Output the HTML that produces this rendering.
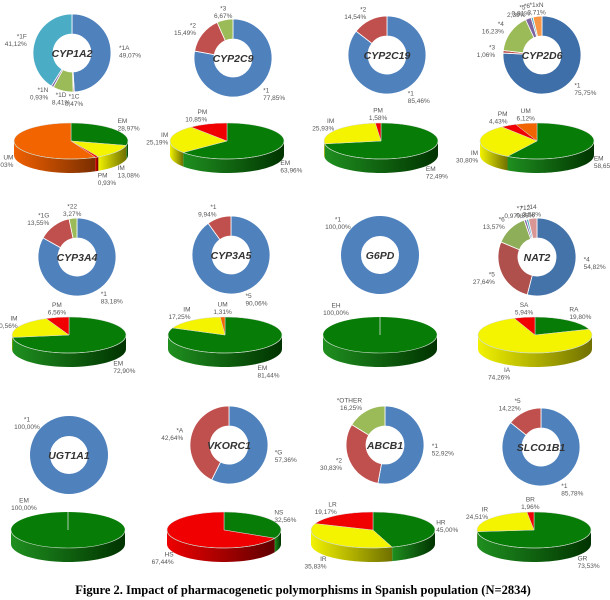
<!DOCTYPE html>
<html><head><meta charset="utf-8">
<style>
html,body{margin:0;padding:0;background:#fff;width:610px;height:600px;overflow:hidden}
svg{display:block}
.lbl{font-family:"Liberation Sans",sans-serif;font-size:6.5px;fill:#555}
.gene{font-family:"Liberation Sans",sans-serif;font-size:10.5px;font-weight:bold;font-style:italic;fill:#333}
.cap{font-family:"Liberation Serif",serif;font-size:12.5px;font-weight:bold;fill:#000}
</style></head>
<body>
<svg id="fig" width="610" height="600" viewBox="0 0 610 600">
<defs>
<linearGradient id="g-green" x1="0" x2="1" y1="0" y2="0"><stop offset="0" stop-color="#1f8f1f"/><stop offset="1" stop-color="#003300"/></linearGradient>
<linearGradient id="g-yellow" x1="0" x2="1" y1="0" y2="0"><stop offset="0" stop-color="#f2f200"/><stop offset="1" stop-color="#707000"/></linearGradient>
<linearGradient id="g-red" x1="0" x2="1" y1="0" y2="0"><stop offset="0" stop-color="#ee0000"/><stop offset="1" stop-color="#600000"/></linearGradient>
<linearGradient id="g-orange" x1="0" x2="1" y1="0" y2="0"><stop offset="0" stop-color="#f06000"/><stop offset="1" stop-color="#7a2e00"/></linearGradient>
</defs>
<text class="cap" x="303" y="594" text-anchor="middle">Figure 2. Impact of pharmacogenetic polymorphisms in Spanish population (N=2834)</text>
</svg>
<script>
// ---- donut data ----
const donutGenes = ["CYP1A2","CYP2C9","CYP2C19","CYP2D6","CYP3A4","CYP3A5","G6PD","NAT2","UGT1A1","VKORC1","ABCB1","SLCO1B1"];
const donutLabels = [
  ["*1A","*1C","*1D","*1N","*1F"],
  ["*1","*2","*3"],
  ["*1","*2"],
  ["*1","*3","*4","*5","*6","*1xN"],
  ["*1","*1G","*22"],
  ["*5","*1"],
  ["*1"],
  ["*4","*5","*6","*7","*12","*14"],
  ["*1"],
  ["*G","*A"],
  ["*1","*2","*OTHER"],
  ["*1","*5"]
];
const donutValues = [
  [49.07,0.47,8.41,0.93,41.12],
  [77.85,15.49,6.67],
  [85.46,14.54],
  [75.75,1.06,16.23,2.39,0.81,3.71],
  [83.18,13.55,3.27],
  [90.06,9.94],
  [100],
  [54.82,27.64,13.57,0.97,0.88,3.58],
  [100],
  [57.36,42.64],
  [52.92,30.83,16.25],
  [85.78,14.22]
];
const donutColors = [
  ["#4f81bd","#c0504d","#9bbb59","#8064a2","#4bacc6"],
  ["#4f81bd","#c0504d","#9bbb59"],
  ["#4f81bd","#c0504d"],
  ["#3f6fa8","#c0504d","#9bbb59","#8064a2","#4bacc6","#f79646"],
  ["#4f81bd","#c0504d","#9bbb59"],
  ["#4f81bd","#c0504d"],
  ["#4f81bd"],
  ["#4473aa","#b0504d","#8fae5a","#8064a2","#4bacc6","#d99694"],
  ["#4f81bd"],
  ["#4f81bd","#c0504d"],
  ["#4f81bd","#c0504d","#9bbb59"],
  ["#4f81bd","#c0504d"]
];
// ---- 3D pie data ----
const pieLabels = [
  ["EM","IM","PM","UM"],
  ["EM","IM","PM"],
  ["EM","IM","PM"],
  ["EM","IM","PM","UM"],
  ["EM","IM","PM"],
  ["EM","IM","UM"],
  ["EH"],
  ["RA","IA","SA"],
  ["EM"],
  ["NS","HS"],
  ["HR","IR","LR"],
  ["GR","IR","BR"]
];
const pieValues = [
  [28.97,13.08,0.93,57.03],
  [63.96,25.19,10.85],
  [72.49,25.93,1.58],
  [58.65,30.80,4.43,6.12],
  [72.90,20.56,6.56],
  [81.44,17.25,1.31],
  [100],
  [19.80,74.26,5.94],
  [100],
  [32.56,67.44],
  [45.00,35.83,19.17],
  [73.53,24.51,1.96]
];
const pieColorKeys = [
  ["green","yellow","red","orange"],
  ["green","yellow","red"],
  ["green","yellow","red"],
  ["green","yellow","red","orange"],
  ["green","yellow","red"],
  ["green","yellow","orange"],
  ["green"],
  ["green","yellow","red"],
  ["green"],
  ["green","red"],
  ["green","yellow","red"],
  ["green","yellow","red"]
];

// ---- layout (positions, not data) ----
const donutLayout = [[72,53],[233,58],[387,55],[542,55],[77,257],[231,255],[380,255],[537,257],[69,455],[229,445],[385,445],[541,447]];
const pieLayout = [[71,141],[227,141],[381,141],[537,141],[69,335],[225,335],[380,335],[535,335],[68,530],[224,530],[373,530],[534,530]];
const colorTop = {green:"#077d07",yellow:"#f4f400",red:"#f00000",orange:"#f26400"};

const NS = "http://www.w3.org/2000/svg";
const svg = document.getElementById("fig");
function mk(tag, attrs, parent){const e=document.createElementNS(NS,tag);for(const k in attrs)e.setAttribute(k,attrs[k]);(parent||svg).appendChild(e);return e;}
function fmt(v){return v.toFixed(2).replace('.',',')+'%';}
function slug(s){return s.replace(/\*/g,'').replace(/[^A-Za-z0-9]+/g,'-').toLowerCase().replace(/^-|-$/g,'');}
function label(g,x,y,name,val,anchor){
  const t1=mk("text",{class:"lbl",x:x,y:y-1.5,"text-anchor":anchor},g);t1.textContent=name;
  
  
  const t2=mk("text",{class:"lbl",x:x,y:y+6,"text-anchor":anchor},g);t2.textContent=fmt(val);
  
  
}

// donuts
donutGenes.forEach((gene,i)=>{
  const [cx,cy]=donutLayout[i];const R=39,r=19;
  const g=mk("g",{});
  
  
  const vals=donutValues[i];const tot=vals.reduce((a,b)=>a+b,0);
  let a0=0;
  vals.forEach((v,j)=>{
    const a1=a0+v/tot*2*Math.PI;
    let p;
    if(v/tot>=0.9999){
      p=mk("circle",{cx:cx,cy:cy,r:(R+r)/2,fill:"none",stroke:donutColors[i][j],"stroke-width":R-r},g);
      
      
      label(g,cx-42,cy-32,donutLabels[i][j],v,"middle");
      a0=a1;
      return;
    }
    const big=(a1-a0)>Math.PI?1:0;
    const P=(rr,a)=>[cx+rr*Math.sin(a),cy-rr*Math.cos(a)];
    const [x0,y0]=P(R,a0),[x1,y1]=P(R,a1),[x2,y2]=P(r,a1),[x3,y3]=P(r,a0);
    p=mk("path",{d:`M${x0},${y0}A${R},${R} 0 ${big} 1 ${x1},${y1}L${x2},${y2}A${r},${r} 0 ${big} 0 ${x3},${y3}Z`,fill:donutColors[i][j],stroke:"#fff","stroke-width":"0.8"},g);
    
    
    const m=(a0+a1)/2;
    const lr=R+8;
    const lx=cx+lr*Math.sin(m), ly=cy-lr*Math.cos(m);
    const anc=Math.sin(m)>0.25?"start":(Math.sin(m)<-0.25?"end":"middle");
    label(g,lx,ly,donutLabels[i][j],v,anc);
    a0=a1;
  });
  const t=mk("text",{class:"gene",x:cx,y:cy+4,"text-anchor":"middle"},g);t.textContent=gene;
  
  
});

// 3D pies
pieValues.forEach((vals,i)=>{
  const [cx,cy]=pieLayout[i];const rx=(i===10?62:57),ry=18,dep=14;
  const g=mk("g",{});
  
  
  const tot=vals.reduce((a,b)=>a+b,0);
  const P=(a,dy)=>[cx+rx*Math.sin(a),cy-ry*Math.cos(a)+(dy||0)];
  let a0=0;
  vals.forEach((v,j)=>{
    const a1=a0+v/tot*2*Math.PI;
    const s=Math.max(a0,Math.PI/2), e=Math.min(a1,3*Math.PI/2);
    if(e>s){
      const pts=[];const n=40;
      for(let k=0;k<=n;k++){pts.push(P(s+(e-s)*k/n));}
      for(let k=n;k>=0;k--){pts.push(P(s+(e-s)*k/n,dep));}
      const side=mk("polygon",{points:pts.map(q=>q.join(',')).join(' '),fill:"url(#g-"+pieColorKeys[i][j]+")"},g);
      
      
    }
    a0=a1;
  });
  a0=0;
  vals.forEach((v,j)=>{
    const a1=a0+v/tot*2*Math.PI;
    let top;
    if(v/tot>=0.9999){
      top=mk("ellipse",{cx:cx,cy:cy,rx:rx,ry:ry,fill:colorTop[pieColorKeys[i][j]]},g);
      mk("line",{x1:cx,y1:cy-ry,x2:cx,y2:cy,stroke:"#ddd","stroke-width":"0.8"},g);
      
      
      label(g,cx-44,cy-26,pieLabels[i][j],v,"middle");
      a0=a1;
      return;
    }
    const big=(a1-a0)>Math.PI?1:0;
    const [x0,y0]=P(a0),[x1,y1]=P(a1);
    top=mk("path",{d:`M${cx},${cy}L${x0},${y0}A${rx},${ry} 0 ${big} 1 ${x1},${y1}Z`,fill:colorTop[pieColorKeys[i][j]],stroke:"#ddd","stroke-width":"0.5"},g);
    
    
    const m=(a0+a1)/2;
    const lx=cx+(rx+2)*Math.sin(m);
    const ly=cy-(ry+9)*Math.cos(m)+(Math.cos(m)<0?dep:0);
    const anc=Math.sin(m)>0.3?"start":(Math.sin(m)<-0.3?"end":"middle");
    label(g,lx,ly,pieLabels[i][j],v,anc);
    a0=a1;
  });
  mk("path",{d:`M${cx-rx},${cy}A${rx},${ry} 0 0 0 ${cx+rx},${cy}`,fill:"none",stroke:"#cfe0cf","stroke-width":"0.6"},g);
});
</script>
</body></html>
